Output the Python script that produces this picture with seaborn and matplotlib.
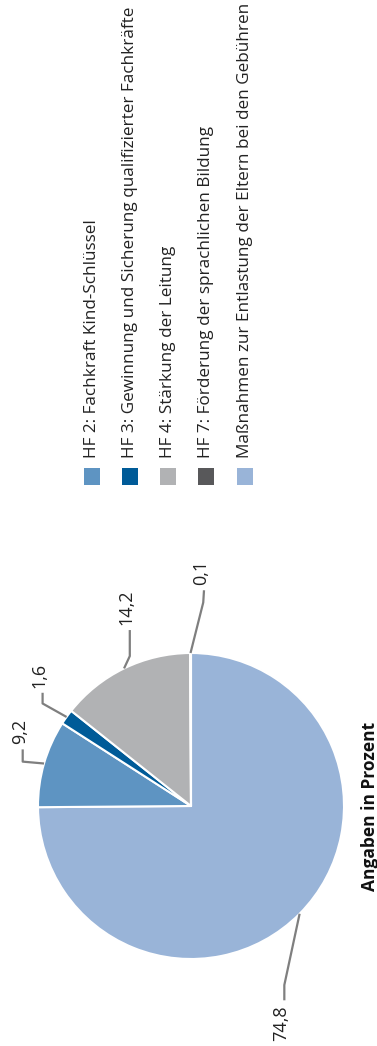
import matplotlib
matplotlib.use("Agg")
import matplotlib.pyplot as plt
import seaborn as sns
import numpy as np

# Anteile der Handlungsfelder (Angaben in Prozent)
categories = [
    "HF 2: Fachkraft Kind-Schlüssel",
    "HF 3: Gewinnung und Sicherung qualifizierter Fachkräfte",
    "HF 4: Stärkung der Leitung",
    "HF 7: Förderung der sprachlichen Bildung",
    "Maßnahmen zur Entlastung der Eltern bei den Gebühren",
]
values = [9.2, 1.6, 14.2, 0.1, 74.8]
value_labels = ["9,2", "1,6", "14,2", "0,1", "74,8"]
colors = ["#5e94c2", "#005b98", "#b1b2b4", "#58585a", "#99b4d8"]
title = "Angaben in Prozent"

# wedge order, clockwise from the top
pie_order = [4, 0, 1, 2, 3]

# leader-line geometry in units of the pie radius (elbow, end)
leader_elbow = {4: (0.61, -1.17), 0: (-1.10, 0.29), 1: (-0.97, 0.67), 2: (-0.40, 0.98), 3: (0.08, 1.33)}
leader_end = {4: (0.61, -1.27), 0: (-1.10, 0.37), 1: (-0.97, 0.74), 2: (-0.40, 1.15), 3: (0.085, 1.41)}

sns.set_theme(style="white")
plt.rcParams["font.family"] = ["Open Sans", "DejaVu Sans"]

W, H = 377, 1046
fig = plt.figure(figsize=(W / 100, H / 100), dpi=100)
ax = fig.add_axes([0, 0, 1, 1])

cx, cy, R = 191, 240, 153
vals = [values[i] for i in pie_order]
cols = [colors[i] for i in pie_order]
wedges, _ = ax.pie(vals, colors=cols, startangle=90, counterclock=False,
                   center=(cx, cy), radius=R,
                   wedgeprops=dict(edgecolor="white", linewidth=1.5))
ax.set_xlim(0, W)
ax.set_ylim(0, H)
ax.set_aspect("equal")
ax.axis("off")

line_col = "#7f7f7f"
for w, idx in zip(wedges, pie_order):
    mid = np.deg2rad((w.theta1 + w.theta2) / 2)
    sx, sy = cx + R * np.cos(mid), cy + R * np.sin(mid)
    ex, ey = leader_elbow[idx]
    nx, ny = leader_end[idx]
    xs = [sx, cx + R * ex, cx + R * nx]
    ys = [sy, cy + R * ey, cy + R * ny]
    ax.plot(xs, ys, color=line_col, lw=1.6, solid_capstyle="butt", zorder=1)
    up = ny > 0
    tx = cx + R * nx - 3
    ty = cy + R * ny + (5 if up else -5)
    ax.text(tx, ty, value_labels[idx], rotation=90, rotation_mode="anchor",
            ha="left" if up else "right", va="center",
            fontsize=13, color="#222222")

# legend drawn as rotated rows
leg_x = [92, 130, 168, 206, 245]
for i, lab in enumerate(categories):
    ax.add_patch(plt.Rectangle((leg_x[i] - 8, 561), 16, 17, color=colors[i], lw=0))
    ax.text(leg_x[i], 588, lab, rotation=90, rotation_mode="anchor",
            ha="left", va="center", fontsize=12.3, color="#222222")

ax.text(370, cy, title, rotation=90, rotation_mode="anchor",
        ha="center", va="center", fontsize=12.5, fontweight="bold", color="#111111")

fig.savefig("out.png", dpi=100)
